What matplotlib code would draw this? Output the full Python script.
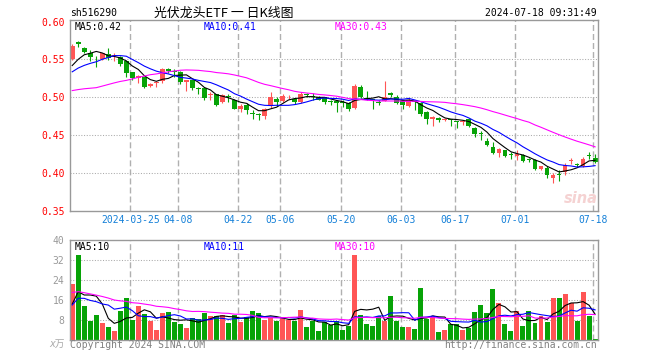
import numpy as np
import pandas as pd
import matplotlib
matplotlib.use('Agg')
import matplotlib.pyplot as plt

# daily candles, 2024-03-11 .. 2024-07-18 (88 trading days)
open_ = [0.5505, 0.5725, 0.5655, 0.558, 0.552, 0.5505, 0.557, 0.554, 0.5535, 0.548,
         0.533, 0.525, 0.5265, 0.515, 0.519, 0.5215, 0.538, 0.534, 0.533, 0.520,
         0.5225, 0.5115, 0.512, 0.5035, 0.504, 0.4945, 0.5015, 0.497, 0.4845, 0.490,
         0.4785, 0.4775, 0.475, 0.488, 0.4975, 0.495, 0.500, 0.498, 0.494, 0.5035,
         0.5015, 0.501, 0.500, 0.495, 0.4955, 0.4935, 0.493, 0.486, 0.514, 0.4985,
         0.4975, 0.4935, 0.4955, 0.506, 0.500, 0.495, 0.489, 0.4945, 0.492, 0.481,
         0.472, 0.473, 0.470, 0.471, 0.4685, 0.467, 0.471, 0.460, 0.453, 0.443,
         0.435, 0.426, 0.430, 0.424, 0.423, 0.4235, 0.418, 0.417, 0.4055, 0.407,
         0.3935, 0.399, 0.401, 0.416, 0.412, 0.409, 0.4245, 0.4195]
close = [0.568, 0.570, 0.560, 0.5535, 0.5515, 0.558, 0.5515, 0.5555, 0.5435, 0.5315,
         0.525, 0.5285, 0.514, 0.518, 0.5205, 0.538, 0.5345, 0.5335, 0.520, 0.5225,
         0.5125, 0.511, 0.499, 0.504, 0.4905, 0.503, 0.5005, 0.485, 0.489, 0.483,
         0.478, 0.477, 0.485, 0.501, 0.494, 0.502, 0.501, 0.494, 0.505, 0.503,
         0.501, 0.497, 0.494, 0.4945, 0.493, 0.493, 0.484, 0.515, 0.501, 0.498,
         0.497, 0.493, 0.501, 0.5025, 0.493, 0.490, 0.496, 0.494, 0.4785, 0.471,
         0.474, 0.470, 0.471, 0.4705, 0.468, 0.469, 0.462, 0.452, 0.451, 0.437,
         0.426, 0.432, 0.4225, 0.4235, 0.425, 0.4165, 0.417, 0.405, 0.409, 0.398,
         0.398, 0.398, 0.411, 0.417, 0.411, 0.419, 0.4225, 0.415]
high = [0.571, 0.5745, 0.567, 0.5625, 0.555, 0.559, 0.5645, 0.558, 0.555, 0.549,
        0.534, 0.530, 0.527, 0.519, 0.522, 0.539, 0.539, 0.538, 0.535, 0.5235,
        0.523, 0.514, 0.5125, 0.5065, 0.5045, 0.504, 0.505, 0.4975, 0.491, 0.492,
        0.483, 0.479, 0.486, 0.507, 0.501, 0.504, 0.503, 0.499, 0.507, 0.506,
        0.506, 0.502, 0.501, 0.497, 0.497, 0.497, 0.4935, 0.517, 0.516, 0.509,
        0.498, 0.497, 0.521, 0.507, 0.503, 0.497, 0.499, 0.496, 0.494, 0.482,
        0.476, 0.474, 0.473, 0.472, 0.469, 0.470, 0.473, 0.461, 0.455, 0.447,
        0.441, 0.433, 0.431, 0.428, 0.430, 0.425, 0.420, 0.418, 0.410, 0.409,
        0.400, 0.4035, 0.414, 0.420, 0.414, 0.421, 0.428, 0.425]
low = [0.549, 0.566, 0.558, 0.548, 0.540, 0.549, 0.549, 0.548, 0.5415, 0.527,
       0.5225, 0.519, 0.5125, 0.514, 0.514, 0.519, 0.5315, 0.527, 0.517, 0.509,
       0.510, 0.505, 0.497, 0.496, 0.489, 0.492, 0.494, 0.484, 0.481, 0.478,
       0.472, 0.470, 0.471, 0.486, 0.488, 0.494, 0.498, 0.491, 0.493, 0.500,
       0.497, 0.496, 0.491, 0.490, 0.481, 0.487, 0.482, 0.484, 0.499, 0.496,
       0.485, 0.490, 0.495, 0.501, 0.491, 0.484, 0.487, 0.483, 0.476, 0.465,
       0.462, 0.467, 0.469, 0.462, 0.460, 0.463, 0.461, 0.4475, 0.444, 0.436,
       0.425, 0.421, 0.421, 0.419, 0.417, 0.415, 0.4145, 0.404, 0.404, 0.393,
       0.3865, 0.389, 0.398, 0.412, 0.408, 0.408, 0.419, 0.414]
# volume, x10k
volume = [22.4, 34, 13.6, 7.7, 10, 6.8, 5.2, 3.6, 11.6, 16.8,
          8, 13.7, 10.3, 7.6, 4, 10.9, 11.1, 7.2, 6.4, 4.8,
          8.8, 8.4, 10.8, 9.6, 9.6, 10, 6.9, 10.1, 7.2, 9.2,
          11.6, 10.8, 7.9, 8.8, 7.7, 8.8, 8.0, 7.6, 12.0, 5.2,
          7.7, 3.6, 7.3, 6.0, 7.6, 4.0, 5.7, 34, 10, 6.4,
          5.6, 9.6, 7.7, 17.6, 7.6, 5.2, 5.2, 4.4, 20.9, 8.4,
          9.3, 3.3, 4.0, 6.4, 6.4, 4.0, 4.7, 11.2, 14.0, 10.8,
          20.4, 14.8, 6.4, 3.6, 11.5, 5.6, 11.6, 6.8, 9.7, 7.2,
          16.8, 16.8, 18.4, 14.8, 7.6, 19.2, 9.6, 0.4]

# closes / volumes before the visible window (only feed the moving averages)
prev_close = [0.530, 0.528, 0.532, 0.530, 0.495, 0.488, 0.492, 0.486, 0.490, 0.468,
              0.462, 0.466, 0.464, 0.490, 0.496, 0.494, 0.498, 0.492, 0.512, 0.518,
              0.520, 0.525, 0.527, 0.530, 0.525, 0.529, 0.530, 0.5435, 0.5395]
prev_volume = [24, 26, 22, 25, 23, 24, 27, 22, 23, 24,
               19, 21, 18, 20, 17, 19, 22, 18, 19, 17,
               7, 14, 16, 15, 16, 9.5, 20.1, 7.7, 12.3]

tick_pos = [10, 18, 28, 35, 45, 55, 64, 74, 87]
tick_labels = ['2024-03-25', '04-08', '04-22', '05-06', '05-20', '06-03', '06-17', '07-01', '07-18']

RED = '#ff5555'
GREEN = '#07a307'
MONO = 'DejaVu Sans Mono'

n = len(close)
x = np.arange(n)
o = np.array(open_); c = np.array(close)
up = c >= o
colors = np.where(up, RED, GREEN)

cs = pd.Series(prev_close + close)
vs = pd.Series(prev_volume + volume)
ma = {k: cs.rolling(k).mean().values[-n:] for k in (5, 10, 30)}
vma = {k: vs.rolling(k).mean().values[-n:] for k in (5, 10, 30)}

fig = plt.figure(figsize=(6.6, 3.6), dpi=100)
W, H = 660.0, 360.0
ax = fig.add_axes([70 / W, 1 - 211 / H, 527.5 / W, 191 / H])
axv = fig.add_axes([70 / W, 1 - 340 / H, 527.5 / W, 100 / H])

xl = (-0.37, 87.4)
grid_x = [p - 0.35 for p in tick_pos]

# candles
ax.vlines(x, low, high, colors=colors, lw=0.8, zorder=2)
ax.bar(x, np.maximum(np.abs(c - o), 0.0011), bottom=np.minimum(o, c), width=0.8,
       color=colors, linewidth=0, zorder=2)
ax.plot(x, ma[5], color='black', lw=0.8, zorder=3)
ax.plot(x, ma[10], color='#0000ff', lw=0.8, zorder=3)
ax.plot(x, ma[30], color='#ff00ff', lw=0.8, zorder=3)

# volume
axv.bar(x, volume, width=0.83, color=colors, linewidth=0, zorder=2)
axv.plot(x, vma[5], color='black', lw=0.8, zorder=3)
axv.plot(x, vma[10], color='#0000ff', lw=0.8, zorder=3)
axv.plot(x, vma[30], color='#ff00ff', lw=0.8, zorder=3)

for a in (ax, axv):
    a.set_xlim(*xl)
    for g in grid_x:
        a.axvline(g, color='#b0b0b0', lw=1.0, linestyle=(0, (4.3, 2.2)), zorder=1)
    for s in a.spines.values():
        s.set_color('#999999')
        s.set_linewidth(1.0)
    a.tick_params(length=0)

ax.set_ylim(0.35, 0.6021)
for v in [0.40, 0.45, 0.50, 0.55]:
    ax.axhline(v, color='#aaaaaa', lw=0.75, linestyle=(0, (1, 1.6)), zorder=1)
yt = [0.35, 0.40, 0.45, 0.50, 0.55, 0.60]
ax.set_yticks(yt)
ax.set_yticklabels(['%.2f' % v for v in yt], color='red', family=MONO, fontsize=7)
ax.tick_params(axis='y', pad=4)
ax.set_xticks(grid_x)
ax.set_xticklabels(tick_labels, color='#1580d8', family=MONO, fontsize=7)
ax.tick_params(axis='x', pad=3)

axv.set_ylim(0, 40)
for v in [8, 16, 24, 32]:
    axv.axhline(v, color='#aaaaaa', lw=0.75, linestyle=(0, (1, 1.6)), zorder=1)
axv.set_yticks([8, 16, 24, 32, 40])
axv.set_yticklabels(['8', '16', '24', '32', '40'], color='#999999', family=MONO, fontsize=7)
axv.tick_params(axis='y', pad=4)
axv.set_xticks([])

def t(px, py, s, **kw):
    fig.text(px / W, 1 - py / H, s, va='center', **kw)

t(70, 13, 'sh516290', family=MONO, fontsize=7, color='black')
t(224, 13, '光伏龙头ETF 一 日K线图', ha='center', family=['Noto Sans CJK SC', 'DejaVu Sans'],
  fontsize=9.3, color='black')
t(597, 13, '2024-07-18 09:31:49', ha='right', family=MONO, fontsize=7, color='black')

t(75, 26.5, 'MA5:0.42', family=MONO, fontsize=7, color='black')
t(204, 26.5, 'MA10:0.41', family=MONO, fontsize=7, color='#0000ff')
t(335, 26.5, 'MA30:0.43', family=MONO, fontsize=7, color='#ff00ff')
t(75, 247, 'MA5:10', family=MONO, fontsize=7, color='black')
t(204, 247, 'MA10:11', family=MONO, fontsize=7, color='#0000ff')
t(335, 247, 'MA30:10', family=MONO, fontsize=7, color='#ff00ff')

t(581, 198, 'sina', ha='center', fontsize=10.5, weight='bold', style='italic', color='#f5d2d2')

t(49, 344, 'x万', family=['DejaVu Sans', 'Noto Sans CJK SC'], fontsize=7, style='italic', color='#aaaaaa')
t(70, 345, 'Copyright 2024 SINA.COM', family=MONO, fontsize=7, color='#808080')
t(597, 345, 'http://finance.sina.com.cn', ha='right', family=MONO, fontsize=7, color='#808080')

fig.savefig('out.png', dpi=100, facecolor='white')
